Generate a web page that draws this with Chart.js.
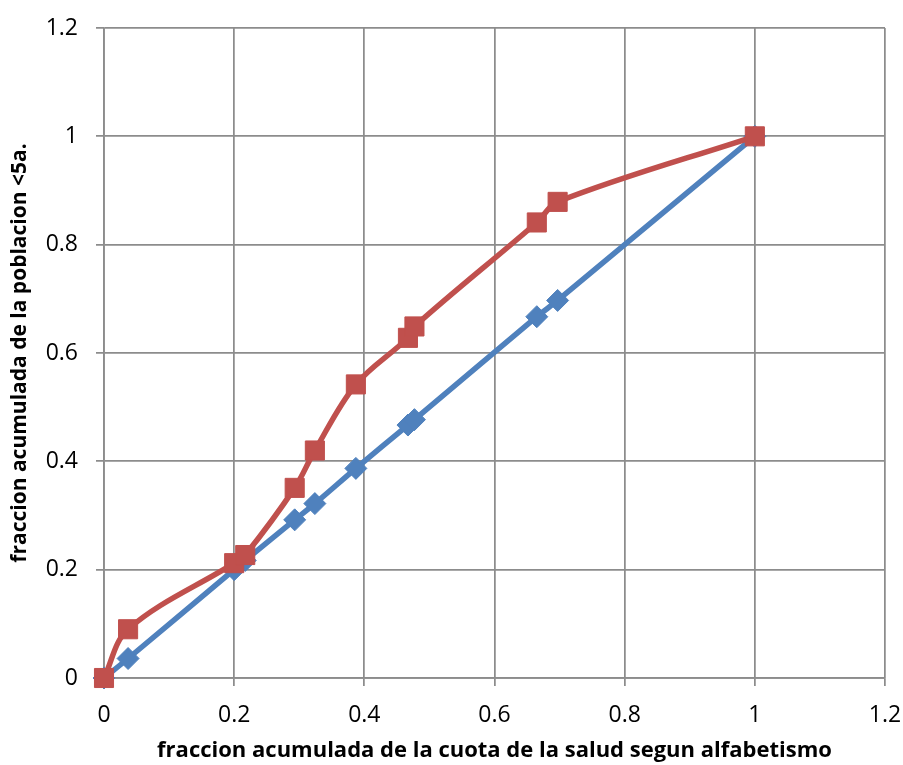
<!DOCTYPE html>
<html>
<head>
<meta charset="utf-8">
<script src="https://cdn.jsdelivr.net/npm/chart.js@4.4.1/dist/chart.umd.min.js"></script>
<style>
  html, body { margin: 0; padding: 0; background: #fff; }
  canvas { display: block; }
</style>
</head>
<body>
<canvas id="curva" width="903" height="765"></canvas>
<script>
// cumulative share of health (x) for each group
const cuotaSalud = [0, 0.037, 0.200, 0.217, 0.293, 0.324, 0.387, 0.467, 0.477, 0.665, 0.697, 1.0];
// cumulative population <5 years (concentration curve)
const poblacion = [0, 0.090, 0.212, 0.227, 0.351, 0.420, 0.542, 0.628, 0.649, 0.841, 0.879, 1.0];
// line of equality
const igualdad = [0, 0.036, 0.200, 0.217, 0.292, 0.322, 0.387, 0.467, 0.477, 0.667, 0.697, 1.0];
const axisTicks = [0, 0.2, 0.4, 0.6, 0.8, 1, 1.2];

const toPoints = (xs, ys) => xs.map((x, i) => ({ x: x, y: ys[i] }));

Chart.defaults.font.family = "'Open Sans', sans-serif";
Chart.defaults.color = '#000';

const gridColor = '#8c8c8c';

const ctx = document.getElementById('curva').getContext('2d');
new Chart(ctx, {
  type: 'line',
  data: {
    datasets: [
      {
        label: 'poblacion <5a.',
        data: toPoints(cuotaSalud, poblacion),
        borderColor: '#C0504D',
        backgroundColor: '#C0504D',
        borderWidth: 5.5,
        tension: 0.35,
        clip: false,
        pointStyle: 'rect',
        pointRadius: 13.5,
        pointBorderWidth: 1,
        pointBorderColor: '#C0504D',
        pointBackgroundColor: '#C0504D'
      },
      {
        label: 'igualdad',
        data: toPoints(cuotaSalud, igualdad),
        borderColor: '#4F81BD',
        backgroundColor: '#4F81BD',
        borderWidth: 5.5,
        tension: 0.35,
        clip: false,
        pointStyle: 'rectRot',
        pointRadius: 11,
        pointBorderWidth: 1,
        pointBorderColor: '#4F81BD',
        pointBackgroundColor: '#4F81BD'
      }
    ]
  },
  options: {
    responsive: false,
    animation: false,
    layout: { padding: { top: 28, right: 18, left: 0, bottom: 0 } },
    plugins: {
      legend: { display: false },
      tooltip: { enabled: false }
    },
    scales: {
      x: {
        type: 'linear',
        min: 0,
        max: 1.2,
        afterFit: (scale) => {
          scale.height = 87;
          scale.paddingLeft = 0;
          scale.paddingRight = 0;
        },
        afterBuildTicks: (scale) => { scale.ticks = axisTicks.map(v => ({ value: v })); },
        ticks: {
          padding: 16,
          font: { size: 23 },
          callback: (v) => String(+v.toFixed(1))
        },
        grid: { color: gridColor, lineWidth: 1.75, tickLength: 8 },
        border: { color: gridColor, width: 1.75 },
        title: {
          display: true,
          text: 'fraccion acumulada de la cuota de la salud segun alfabetismo',
          font: { size: 22, weight: 'bold' },
          padding: { top: 0, bottom: 1 }
        }
      },
      y: {
        type: 'linear',
        min: 0,
        max: 1.2,
        afterFit: (scale) => {
          scale.width = 104;
          scale.paddingTop = 0;
          scale.paddingBottom = 0;
        },
        afterBuildTicks: (scale) => { scale.ticks = axisTicks.map(v => ({ value: v })); },
        ticks: {
          padding: 18,
          font: { size: 23 },
          callback: (v) => String(+v.toFixed(1))
        },
        grid: { color: gridColor, lineWidth: 1.75, tickLength: 8 },
        border: { color: gridColor, width: 1.75 },
        title: {
          display: true,
          text: 'fraccion acumulada de la poblacion <5a.',
          font: { size: 21, weight: 'bold' },
          padding: { top: 7, bottom: 0 }
        }
      }
    }
  }
});
</script>
</body>
</html>
